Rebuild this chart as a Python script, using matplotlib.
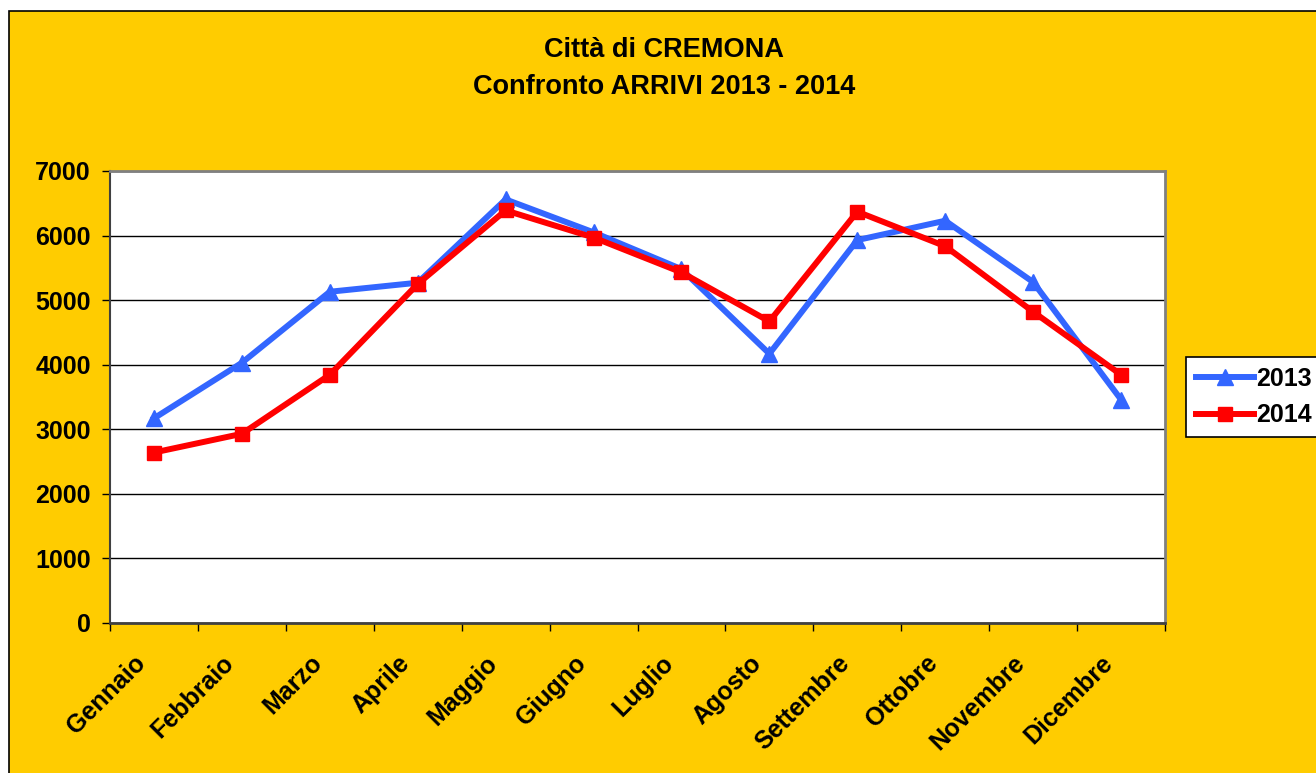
import numpy as np
import matplotlib
matplotlib.use("Agg")
from matplotlib import pyplot as plt
from matplotlib.patches import Rectangle

plt.rcParams['font.family'] = ['Liberation Sans', 'DejaVu Sans']
plt.rcParams['font.weight'] = 'bold'

mesi = ['Gennaio', 'Febbraio', 'Marzo', 'Aprile', 'Maggio', 'Giugno',
        'Luglio', 'Agosto', 'Settembre', 'Ottobre', 'Novembre', 'Dicembre']
arrivi_2013 = [3170, 4030, 5130, 5270, 6560, 6050, 5480, 4170, 5930, 6230, 5280, 3460]
arrivi_2014 = [2640, 2930, 3845, 5250, 6390, 5970, 5430, 4670, 6370, 5835, 4820, 3845]
yticks = [0, 1000, 2000, 3000, 4000, 5000, 6000, 7000]

W, H = 1316, 773
fig = plt.figure(figsize=(W / 100, H / 100), dpi=100, facecolor='white')

# yellow chart frame (goes past the right and bottom edge)
cornice = Rectangle((9 / W, -0.05), 1.1, 1 - 11 / H + 0.05,
                    transform=fig.transFigure, facecolor='#FFCC00',
                    edgecolor='black', linewidth=1.2, zorder=-10)
fig.add_artist(cornice)

ax = fig.add_axes([110 / W, 1 - 623 / H, (1165 - 110) / W, (623 - 171) / H])
ax.set_facecolor('white')

x = np.arange(len(mesi))
ax.plot(x, arrivi_2013, color='#3366FF', lw=4.3, marker='^', ms=11,
        label='2013', zorder=3, solid_joinstyle='miter')
ax.plot(x, arrivi_2014, color='#FF0000', lw=4.3, marker='s', ms=10,
        label='2014', zorder=4, solid_joinstyle='miter')

ax.set_xlim(-0.5, len(mesi) - 0.5)
ax.set_ylim(0, 7000)
ax.set_yticks(yticks)
ax.set_yticklabels([str(v) for v in yticks], fontsize=18, fontweight='bold')
ax.yaxis.grid(True, color='black', lw=1)
ax.set_axisbelow(True)
ax.tick_params(axis='y', length=5.8, width=1, direction='out', pad=8)

# labels a bit left of the centres, tick marks at category boundaries
ax.set_xticks(x - 0.23)
ax.set_xticklabels(mesi, rotation=45, ha='right', va='top',
                   rotation_mode='anchor', fontsize=18, fontweight='bold')
ax.set_xticks(np.arange(-0.5, len(mesi)), minor=True)
ax.tick_params(axis='x', which='major', length=0, pad=20)
ax.tick_params(axis='x', which='minor', length=5.5, width=1, direction='out')

for s in ['top', 'right']:
    ax.spines[s].set_color('#808080')
    ax.spines[s].set_linewidth(2)
ax.spines['left'].set_color('#404040')
ax.spines['bottom'].set_color('#404040')
ax.spines['left'].set_linewidth(1.5)
ax.spines['bottom'].set_linewidth(2)

fig.text(664 / W, 1 - 50 / H, 'Città di CREMONA', ha='center', va='center',
         fontsize=19.5, fontweight='bold')
fig.text(664 / W, 1 - 87 / H, 'Confronto ARRIVI 2013 - 2014', ha='center',
         va='center', fontsize=19.5, fontweight='bold')

leg = fig.legend(loc='upper left', bbox_to_anchor=(1186 / W, 1 - 357 / H),
                 frameon=True, fancybox=False, framealpha=1, fontsize=18,
                 handlelength=2.3, handletextpad=0.1, borderpad=0.4,
                 labelspacing=0.5, borderaxespad=0)
leg.get_frame().set_edgecolor('black')
leg.get_frame().set_linewidth(1.2)
leg.get_frame().set_facecolor('white')
for t in leg.get_texts():
    t.set_fontweight('bold')

fig.savefig('out.png', dpi=100, facecolor=fig.get_facecolor())
